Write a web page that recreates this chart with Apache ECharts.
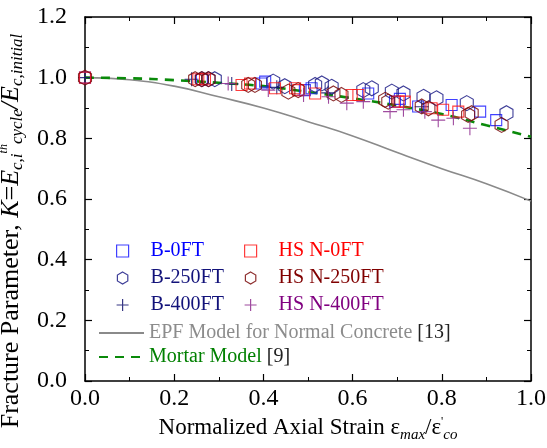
<!DOCTYPE html>
<html><head><meta charset="utf-8">
<script src="https://cdn.jsdelivr.net/npm/echarts@6/dist/echarts.min.js"></script>
<style>html,body{margin:0;padding:0;background:#fff}#c{width:547px;height:448px}</style>
</head><body><div id="c"></div>
<script>
// ---- data ----
const xTickLabels = ['0.0','0.2','0.4','0.6','0.8','1.0'];
const yTickLabels = ['0.0','0.2','0.4','0.6','0.8','1.0','1.2'];

const b0FT = [[0.000,1.000],[0.262,0.995],[0.396,0.981],[0.404,0.987],[0.493,0.959],[0.508,0.965],[0.635,0.948],[0.695,0.921],[0.706,0.930],[0.747,0.905],[0.822,0.910],[0.886,0.888],[0.922,0.860]];
const b250FT = [[0.262,0.995],[0.277,0.995],[0.291,0.995],[0.422,0.987],[0.448,0.972],[0.516,0.976],[0.531,0.981],[0.553,0.970],[0.624,0.959],[0.643,0.965],[0.688,0.954],[0.714,0.948],[0.759,0.937],[0.788,0.932],[0.856,0.916],[0.945,0.883]];
const b400FT = [[0.000,1.000],[0.239,0.995],[0.329,0.979],[0.430,0.968],[0.545,0.950],[0.755,0.904]];
const hs0FT = [[0.000,1.000],[0.254,0.995],[0.269,0.995],[0.351,0.976],[0.370,0.981],[0.426,0.965],[0.471,0.965],[0.478,0.959],[0.516,0.948],[0.598,0.943],[0.613,0.943],[0.703,0.921],[0.717,0.921],[0.777,0.899],[0.803,0.894],[0.837,0.888]];
const hs250FT = [[0.000,1.000],[0.247,0.995],[0.262,0.995],[0.277,0.995],[0.366,0.976],[0.381,0.976],[0.456,0.954],[0.478,0.959],[0.557,0.948],[0.575,0.943],[0.673,0.927],[0.680,0.921],[0.755,0.905],[0.770,0.899],[0.859,0.877],[0.867,0.883],[0.934,0.844]];
const hs400FT = [[0.321,0.981],[0.411,0.959],[0.490,0.943],[0.546,0.937],[0.587,0.916],[0.624,0.921],[0.684,0.888],[0.714,0.894],[0.762,0.888],[0.792,0.860],[0.826,0.866],[0.863,0.833]];

const modelX = [0,0.1,0.2,0.3,0.4,0.5,0.6,0.7,0.8,0.9,1.0];
const epfModel = [1.000,0.993,0.972,0.937,0.900,0.855,0.808,0.753,0.700,0.650,0.593];
const mortarModel = [1.000,0.998,0.992,0.983,0.972,0.953,0.932,0.908,0.880,0.843,0.805];

// ---- chart ----
const FONT = 'Liberation Serif';
const hexPath = 'path://M0,-10 L8.66,-5 L8.66,5 L0,10 L-8.66,5 L-8.66,-5 Z';
const plusPath = 'path://M-10,0 L10,0 M0,-10 L0,10';
const C = {
  b0:'#1f1fff', b250:'#1c1c86', b400:'#14146e',
  h0:'#ff1a1a', h250:'#7a0a0a', h400:'#8e2c8e'
};
function pts(xs, ys){ return xs.map((x,i)=>[x, ys[i]]); }

function scatter(name, data, symbol, size, color, z){
  return {type:'scatter', name, data, symbol, symbolSize:size, z,
    symbolKeepAspect:true,
    itemStyle:{color:'rgba(0,0,0,0)', borderColor:color, borderWidth:1.1, opacity:0.85},
    emphasis:{disabled:true}};
}

const axisCommon = {
  axisLine:{show:true, onZero:false, lineStyle:{color:'#000', width:1.5}},
  axisTick:{show:true, inside:true, length:7, lineStyle:{color:'#000', width:1.2}},
  minorTick:{show:true, splitNumber:2, length:4, lineStyle:{color:'#000', width:1}},
  splitLine:{show:false}
};
const hiddenIcon = {color:'rgba(0,0,0,0)', borderColor:'rgba(0,0,0,0)', opacity:0};

const chart = echarts.init(document.getElementById('c'), null, {renderer:'canvas'});
chart.setOption({
  animation:false,
  backgroundColor:'#fff',
  textStyle:{fontFamily:FONT},
  grid:{left:85, right:16, top:17, bottom:67, containLabel:false, outerBoundsMode:'none'},
  xAxis:[
    Object.assign({type:'value', min:0, max:1, interval:0.2, position:'bottom',
      axisLabel:{formatter:(v)=>xTickLabels[Math.round(v/0.2)], fontFamily:FONT, fontSize:24, color:'#000', margin:6},
      name:'{n|Normalized Axial Strain ε}{s|max}{n|/ε}{p|\'}{s|co}',
      nameLocation:'middle', nameGap:32,
      nameTextStyle:{fontFamily:FONT, fontSize:23, color:'#000',
        rich:{n:{fontFamily:FONT, fontSize:23, color:'#000'},
              s:{fontFamily:FONT, fontSize:15, fontStyle:'italic', color:'#000', padding:[14,0,0,0]},
              p:{fontFamily:FONT, fontSize:12, color:'#000', padding:[0,0,12,0]}}}
    }, axisCommon),
    Object.assign({type:'value', min:0, max:1, interval:0.2, position:'top', axisLabel:{show:false}}, axisCommon)
  ],
  yAxis:[
    Object.assign({type:'value', min:0, max:1.2, interval:0.2, position:'left',
      axisLabel:{formatter:(v)=>yTickLabels[Math.round(v/0.2)], fontFamily:FONT, fontSize:24, color:'#000', margin:18},
      name:'{n|Fracture Parameter, }{i|K}{n|=}{i|E}{s|c,i}{p|th}{s|cycle}{i|/E}{s|c,initial}',
      nameLocation:'middle', nameGap:41,
      nameTextStyle:{fontFamily:FONT, fontSize:26, color:'#000', padding:[0,64,0,0],
        rich:{n:{fontFamily:FONT, fontSize:26, color:'#000'},
              i:{fontFamily:FONT, fontSize:26, fontStyle:'italic', color:'#000'},
              s:{fontFamily:FONT, fontSize:17, fontStyle:'italic', color:'#000', padding:[13,0,0,0]},
              p:{fontFamily:FONT, fontSize:12, fontStyle:'italic', color:'#000', padding:[0,0,15,0]}}}
    }, axisCommon),
    Object.assign({type:'value', min:0, max:1.2, interval:0.2, position:'right', axisLabel:{show:false}}, axisCommon)
  ],
  legend:[
    {orient:'vertical', left:116, top:241, padding:0, itemWidth:12, itemHeight:12, itemGap:7,
      itemStyle:{borderWidth:1.2},
      textStyle:{fontFamily:FONT, fontSize:20, lineHeight:20, padding:[0,0,0,17]},
      data:[{name:'B-0FT', textStyle:{color:'#0000ff'}},
            {name:'B-250FT', textStyle:{color:'#12127a'}},
            {name:'B-400FT', textStyle:{color:'#12127a'}}]},
    {orient:'vertical', left:244, top:241, padding:0, itemWidth:12, itemHeight:12, itemGap:7,
      itemStyle:{borderWidth:1.2},
      textStyle:{fontFamily:FONT, fontSize:20, lineHeight:20, padding:[0,0,0,17]},
      data:[{name:'HS N-0FT', textStyle:{color:'#ff0000'}},
            {name:'HS N-250FT', textStyle:{color:'#800000'}},
            {name:'HS N-400FT', textStyle:{color:'#800080'}}]},
    {orient:'vertical', left:98, top:323, padding:0, itemWidth:45, itemHeight:12, itemGap:4,
      formatter:(n)=> n==='Mortar Model' ? '{gr|Mortar Model} {k|[9]}' : '{g|EPF Model for Normal Concrete} {k|[13]}',
      textStyle:{fontFamily:FONT, fontSize:20, lineHeight:20,
        rich:{g:{fontFamily:FONT, fontSize:20, color:'#8c8c8c'},
              gr:{fontFamily:FONT, fontSize:20, color:'#008000'},
              k:{fontFamily:FONT, fontSize:20, color:'#222'}}},
      data:[{name:'EPF Model for Normal Concrete', itemStyle:hiddenIcon},
            {name:'Mortar Model', itemStyle:hiddenIcon}]}
  ],
  series:[
    {type:'line', name:'EPF Model for Normal Concrete', data:pts(modelX, epfModel), smooth:true,
      symbol:'none', lineStyle:{color:'#8a8a8a', width:1.6}, itemStyle:{color:'#8a8a8a'}, z:2},
    {type:'line', name:'Mortar Model', data:pts(modelX, mortarModel), smooth:true,
      symbol:'none', lineStyle:{color:'#0a8a0a', width:2.6, type:[9,7]}, itemStyle:{color:'#0a8a0a'}, z:3},
    scatter('B-0FT', b0FT, 'rect', 11, C.b0, 4),
    scatter('B-250FT', b250FT, hexPath, 15, C.b250, 4),
    scatter('B-400FT', b400FT, plusPath, 14, C.b400, 4),
    scatter('HS N-0FT', hs0FT, 'rect', 11, C.h0, 5),
    scatter('HS N-250FT', hs250FT, hexPath, 15, C.h250, 5),
    scatter('HS N-400FT', hs400FT, plusPath, 14, C.h400, 5)
  ]
});
</script></body></html>
